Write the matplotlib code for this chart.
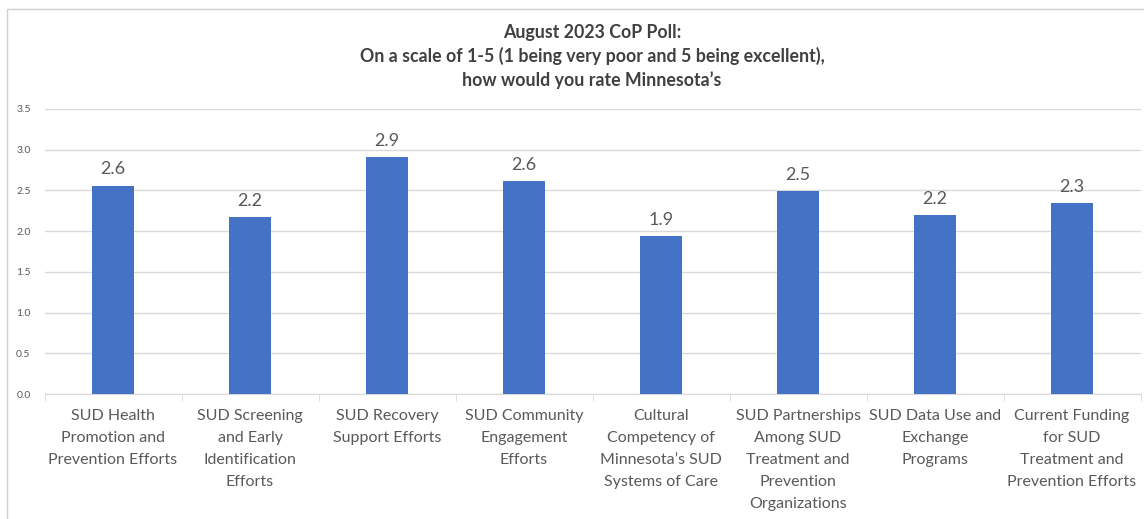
import numpy as np
import matplotlib.pyplot as plt
from matplotlib.patches import Rectangle

categories = [
    "SUD Health\nPromotion and\nPrevention Efforts",
    "SUD Screening\nand Early\nIdentification\nEfforts",
    "SUD Recovery\nSupport Efforts",
    "SUD Community\nEngagement\nEfforts",
    "Cultural\nCompetency of\nMinnesota\u2019s SUD\nSystems of Care",
    "SUD Partnerships\nAmong SUD\nTreatment and\nPrevention\nOrganizations",
    "SUD Data Use and\nExchange\nPrograms",
    "Current Funding\nfor SUD\nTreatment and\nPrevention Efforts",
]
ratings = [2.56, 2.17, 2.91, 2.61, 1.94, 2.49, 2.20, 2.34]
yticks = [0.0, 0.5, 1.0, 1.5, 2.0, 2.5, 3.0, 3.5]

title = ("August 2023 CoP Poll:\n"
         "On a scale of 1-5 (1 being very poor and 5 being excellent),\n"
         "how would you rate Minnesota\u2019s")

plt.rcParams['font.family'] = ['Lato', 'DejaVu Sans']
text_gray = '#595959'
grid_gray = '#d9d9d9'

fig = plt.figure(figsize=(11.44, 5.19), dpi=100)
ax = fig.add_axes([44.5 / 1144, 1 - 394 / 519, 1096 / 1144, 285 / 519])

# light chart border
fig.patches.append(Rectangle((7 / 1144, -0.05), 1.2, 1 - 9 / 519 + 0.05,
                             transform=fig.transFigure, fill=False,
                             edgecolor='#d0d0d0', linewidth=1.0))

x = np.arange(len(categories))
bars = ax.bar(x, ratings, width=0.31, color='#4472c4', zorder=3)
for b, v in zip(bars, ratings):
    ax.text(b.get_x() + b.get_width() / 2, v + 0.1, f"{v:.1f}",
            ha='center', va='bottom', fontsize=13, color=text_gray)

ax.set_xlim(-0.5, len(categories) - 0.5)
ax.set_ylim(0, 3.5)
ax.set_yticks(yticks)
ax.set_yticklabels([f"{t:.1f}" for t in yticks], fontsize=7.5, color=text_gray)
ax.yaxis.grid(True, color=grid_gray, linewidth=1.0, zorder=0)
ax.tick_params(axis='y', length=0, pad=10)

ax.set_xticks(x)
ax.set_xticklabels(categories, fontsize=11.5, color=text_gray, linespacing=1.72)
ax.tick_params(axis='x', length=0, pad=11)
ax.set_xticks(np.arange(len(categories) + 1) - 0.5, minor=True)
ax.tick_params(axis='x', which='minor', length=5, color=grid_gray)

for s in ['top', 'right', 'left']:
    ax.spines[s].set_visible(False)
ax.spines['bottom'].set_color(grid_gray)

fig.text(592 / 1144, 1 - 24 / 519, title, ha='center', va='top',
         fontsize=12.8, fontweight='bold', color='#404040', linespacing=1.42)

fig.savefig('out.png', dpi=100)
